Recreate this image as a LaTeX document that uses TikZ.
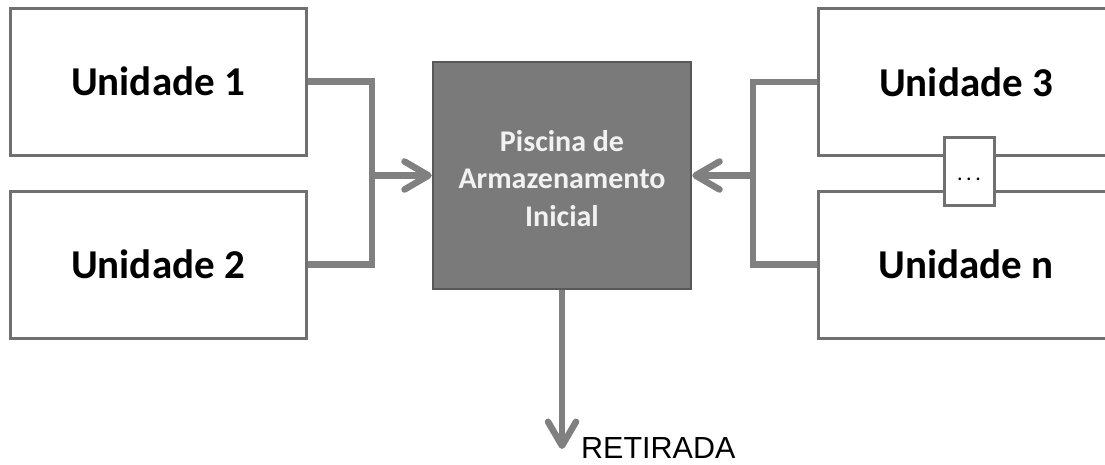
\documentclass[tikz,border=0pt]{standalone}
\usepackage{fontspec}
\setmainfont{Carlito}
\newfontfamily\arialfont{Liberation Sans}
\usetikzlibrary{arrows.meta}
\definecolor{boxline}{RGB}{112,112,112}
\definecolor{connline}{RGB}{128,128,128}
\definecolor{poolfill}{RGB}{122,122,122}
\definecolor{poolline}{RGB}{88,88,88}
\definecolor{pooltext}{RGB}{242,242,242}
\tikzset{
  unitbox/.style={draw=boxline, line width=3pt, fill=white, minimum width=296pt, minimum height=147pt, inner sep=0pt, font=\fontsize{41}{49}\selectfont\bfseries},
  poolbox/.style={draw=poolline, line width=2.5pt, fill=poolfill, minimum width=258pt, minimum height=227pt, inner sep=0pt},
  pooltitle/.style={text=pooltext, align=center, font=\fontsize{30}{37.5}\selectfont\bfseries, inner sep=0pt, yshift=-3pt},
  dotsbox/.style={draw=boxline, line width=3pt, fill=white, minimum width=50pt, minimum height=68pt, inner sep=0pt, text height=18pt, text depth=0pt, font=\fontsize{22}{22}\selectfont},
  conn/.style={draw=connline, line width=6.5pt},
  flow/.style={conn, -{Straight Barb[length=24pt,width=28pt,round]}},
  outlabel/.style={anchor=base west, inner sep=0pt, font=\arialfont\fontsize{30.5}{30.5}\selectfont},
}
\begin{document}
\begin{tikzpicture}[x=1pt,y=-1pt]
\clip (0,0) rectangle (1105,464);
\fill[white] (0,0) rectangle (1105,464);
% nodes
\node[poolbox, label={[pooltitle]center:{Piscina de\\Armazenamento\\Inicial}}] (pool) at (562,175.5) {};
\node[unitbox] (u1) at (158,81.5) {Unidade 1};
\node[unitbox] (u2) at (158,264.5) {Unidade 2};
\node[unitbox] (u3) at (966,82) {Unidade 3};
\node[unitbox] (un) at (966,264.5) {Unidade n};
\coordinate (jl) at (372,175.5);
\coordinate (jr) at (753,175.5);
\coordinate (out) at (562,449);
\node[outlabel] (ret) at (581,458) {RETIRADA};
% connectors
\draw[conn] (u1.east) -| (jl);
\draw[conn] (u2.east) -| (jl);
\draw[flow] (jl) -- (pool.west);
\draw[conn] (u3.west) -| (jr);
\draw[conn] (un.west) -| (jr);
\draw[flow] (jr) -- (pool.east);
\draw[flow] (pool.south) -- (out);
\node[dotsbox] (dots) at (969,171) {.\hspace{3.5pt}.\hspace{3.5pt}.};
\end{tikzpicture}
\end{document}
